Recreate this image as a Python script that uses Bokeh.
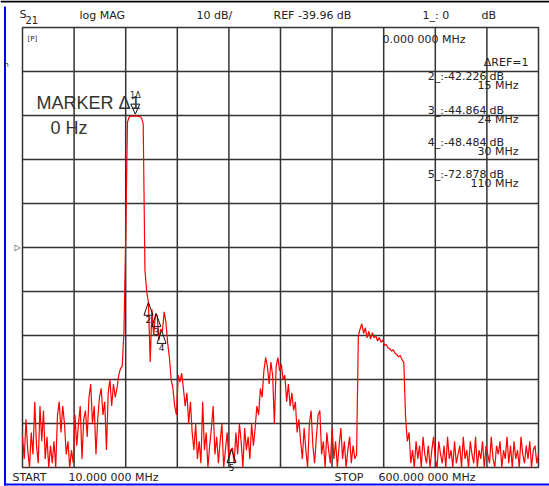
import numpy as np
from bokeh.plotting import figure
from bokeh.models import Label, Range1d
from bokeh.embed import file_html
from bokeh.resources import INLINE
from bokeh.core.properties import value

# ---------------- data ----------------
START_MHZ = 10.0
STOP_MHZ = 600.0
STEP_MHZ = 2.0
REF_DB = -39.96
SCALE_DB = 10.0

trace_db = [
    -83, -88, -79, -86, -90, -82, -87, -75, -85, -89,
    -76, -84, -77, -88, -83, -90, -85, -89, -84, -90,
    -78, -75, -82, -76, -80, -87, -84, -90, -86, -89,
    -78, -85, -80, -76, -88, -79, -77, -83, -74, -71,
    -80, -76, -87, -79, -74, -72, -78, -75, -86, -73,
    -70, -76, -71, -74, -72, -69, -67.5, -67, -59, -38,
    -11.5, -10.3, -10.1, -10.1, -10.1, -10.1, -10.1, -10.2, -10.5, -11.8,
    -45, -50, -52.4, -66, -54, -60, -55, -55.5, -61, -58.5,
    -59, -54.6, -57, -61.7, -65, -70, -72, -76, -78, -69,
    -70.5, -68.5, -72, -76, -73, -80, -75, -82, -86, -80,
    -88, -84, -89, -75, -86, -82, -90, -85, -81, -76,
    -87, -83, -89, -84, -80, -90, -86, -82, -88, -86,
    -85.5, -89, -82, -87, -80, -84, -90, -81, -86, -83,
    -88, -80, -85, -81, -76, -78, -72, -74, -68, -65,
    -67, -71, -66, -69, -80, -67, -65, -68, -66.5, -70,
    -69, -75, -71, -76, -73, -77, -75, -82, -79, -84,
    -88, -81, -86, -90, -80, -77, -85, -89, -83, -78,
    -77, -87, -84, -90, -82, -86, -89, -81, -88, -84,
    -90, -85, -81, -88, -84, -90, -86, -83, -89, -85,
    -88, -87, -60, -58.5, -57.3, -59.5, -58.2, -60.5, -59, -60.8,
    -59.3, -60.5, -60, -61.2, -60.4, -61.5, -61, -62.2, -62, -62.8,
    -63, -63.5, -63.2, -64, -64.3, -64.8, -64.5, -65.5, -66, -78.5,
    -84, -82, -89, -86, -90, -84, -88, -85, -90, -83,
    -87, -89, -85, -90, -86, -83, -88, -90, -84, -87,
    -89, -85, -90, -83, -88, -86, -90, -84, -89, -87,
    -85, -90, -83, -88, -86, -90, -84, -87, -89, -83,
    -90, -86, -88, -84, -90, -85, -87, -89, -83, -88,
    -90, -85, -87, -84, -90, -86, -88, -83, -89, -85,
    -90, -84, -88, -86, -90, -83, -87, -89, -85, -88,
    -84, -90, -86, -85, -89, -87,
]

marker_ids = ["1", "2", "3", "4", "5"]
marker_freq = [139, 154, 163, 169, 249]
marker_db = [-10.1, -52.4, -55.0, -58.8, -85.9]

readout_values = ["2_:-42.226", "3_:-44.864", "4_:-48.484", "5_:-72.878"]
readout_freqs = ["15 MHz", "24 MHz", "30 MHz", "110 MHz"]

# ---------------- geometry ----------------
freq_mhz = START_MHZ + STEP_MHZ * np.arange(len(trace_db))
TOP_DB = REF_DB + 5 * SCALE_DB
BOT_DB = REF_DB - 5 * SCALE_DB

W, H = 549, 486
FX0, FX1, FY0, FY1 = 22, 538, 27, 467   # graticule in page pixels

MHZ_PER_PX = (STOP_MHZ - START_MHZ) / (FX1 - FX0)
DB_PER_PX = (TOP_DB - BOT_DB) / (FY1 - FY0)


def px(x, y):
    return (START_MHZ + (x - FX0) * MHZ_PER_PX, TOP_DB - (y - FY0) * DB_PER_PX)


p = figure(width=W, height=H, title=None,
           x_range=Range1d(px(0, 0)[0], px(W, 0)[0]),
           y_range=Range1d(px(0, H)[1], px(0, 0)[1]),
           x_axis_location=None, y_axis_location=None,
           toolbar_location=None, output_backend="svg",
           min_border=0, background_fill_color="white", border_fill_color="white")
p.outline_line_color = None
p.xgrid.visible = False
p.ygrid.visible = False

GRID = "#333333"
x_ticks = [START_MHZ + k * (STOP_MHZ - START_MHZ) / 10 for k in range(1, 10)]
y_ticks = [REF_DB + k * SCALE_DB for k in range(-4, 5)]
p.segment(x0=x_ticks, y0=[BOT_DB] * len(x_ticks), x1=x_ticks, y1=[TOP_DB] * len(x_ticks),
          line_color=GRID, line_width=1.5)
p.segment(x0=[START_MHZ] * len(y_ticks), y0=y_ticks, x1=[STOP_MHZ] * len(y_ticks), y1=y_ticks,
          line_color=GRID, line_width=1.5)
p.quad(left=[START_MHZ], right=[STOP_MHZ], bottom=[BOT_DB], top=[TOP_DB],
       fill_color=None, line_color=GRID, line_width=1.5)

p.line(freq_mhz, np.clip(trace_db, BOT_DB, TOP_DB), line_color="#ff0000", line_width=1.2)

# marker triangles
tri_xs, tri_ys, lab_x, lab_y, lab_t = [], [], [], [], []
for mid, f, v in zip(marker_ids, marker_freq, marker_db):
    hw = 4.5 * MHZ_PER_PX
    if mid == "1":
        ay = v + 2 * DB_PER_PX
        by = ay + 10 * DB_PER_PX
        tri_xs.append([f, f - hw, f + hw])
        tri_ys.append([ay, by, by])
    else:
        by = v - 13 * DB_PER_PX
        tri_xs.append([f, f - hw, f + hw])
        tri_ys.append([v, by, by])
        lab_x.append(f)
        lab_y.append(by - 1.0 * DB_PER_PX)
        lab_t.append(mid)
p.patches(tri_xs, tri_ys, fill_color=None, line_color="#111111", line_width=1)
p.text(x=lab_x, y=lab_y, text=lab_t, text_font=value("DejaVu Sans"),
       text_font_size="9px", text_align="center", text_baseline="top", text_color="#111111")

FONT = "DejaVu Sans"


def label(x, y, text, size="11px", align="left", baseline="middle", color="#222222",
          font=FONT):
    lx, ly = px(x, y)
    p.add_layout(Label(x=lx, y=ly, text=text, text_font_size=size, text_align=align,
                       text_baseline=baseline, text_color=color, text_font=font))


# marker 1 tag
m1x = (marker_freq[0] - START_MHZ) / MHZ_PER_PX + FX0
label(m1x, 95, "1\u0394", size="8px", align="center")

# header
label(19, 14, "S", size="11px")
label(25, 19, "21", size="10px")
label(79, 15, "log MAG")
label(196, 15, "10 dB/")
label(273, 15, f"REF {REF_DB:.2f} dB")
label(422, 15, "1_: 0")
label(481, 15, "dB")

# icon in top-left cell
label(27, 38, "[P]", size="7px")

# reference position arrow
label(17, 247, "\u25B7", size="8px", align="center")
label(6, 64, "h", size="7px", align="center")

# active marker area
label(36, 102, "MARKER \u03941", size="18px", color="#333333", font="Liberation Sans")
label(50, 127, "0 Hz", size="18px", color="#333333", font="Liberation Sans")

# marker readouts
label(382, 39, "0.000 000 MHz")
label(528, 62, "\u0394REF=1", align="right")
row_y = [76, 110, 142, 174]
for yv, t, fr in zip(row_y, readout_values, readout_freqs):
    label(486, yv, t, align="right")
    label(489, yv, "dB")
    label(518, yv + 9, fr, align="right")

# footer
label(12, 477, "START")
label(68, 477, f"{START_MHZ:.3f} 000 MHz")
label(334, 477, "STOP")
label(378, 477, f"{STOP_MHZ:.3f} 000 MHz")

# frame lines of the instrument screen
def box(x0, y0, x1, y1, color):
    a = px(x0, y0)
    b = px(x1, y1)
    p.quad(left=[a[0]], right=[b[0]], top=[a[1]], bottom=[b[1]],
           fill_color=color, line_color=None)


box(3.5, 6, 5.5, 485, "#0000ff")
box(3.5, 483, W, 485, "#0000ff")
box(0, 0, W, 2, "#000000")

open("out.html", "w").write(file_html(p, INLINE))
